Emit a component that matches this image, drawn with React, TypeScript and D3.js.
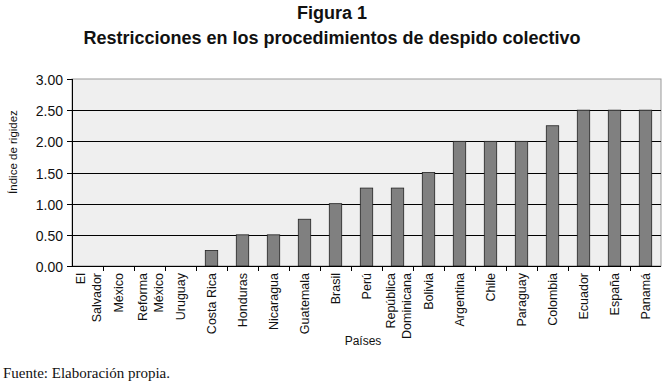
import { useEffect, useRef } from 'react';
import * as d3 from 'd3';

const countries = [
  "El Salvador", "México", "Reforma México", "Uruguay", "Costa Rica", "Honduras",
  "Nicaragua", "Guatemala", "Brasil", "Perú", "República Dominicana", "Bolivia",
  "Argentina", "Chile", "Paraguay", "Colombia", "Ecuador", "España", "Panamá"
];
const labelLines = [
  ["El", "Salvador"], ["México"], ["Reforma", "México"], ["Uruguay"], ["Costa Rica"],
  ["Honduras"], ["Nicaragua"], ["Guatemala"], ["Brasil"], ["Perú"],
  ["República", "Dominicana"], ["Bolivia"], ["Argentina"], ["Chile"], ["Paraguay"],
  ["Colombia"], ["Ecuador"], ["España"], ["Panamá"]
];
const rigidez = [0, 0, 0, 0, 0.25, 0.5, 0.5, 0.75, 1, 1.25, 1.25, 1.5, 2, 2, 2, 2.25, 2.5, 2.5, 2.5];
const yTicks = [0, 0.5, 1, 1.5, 2, 2.5, 3];

export default function App() {
  const svgRef = useRef<SVGSVGElement>(null);

  useEffect(() => {
    if (!svgRef.current) return;
    const svg = d3.select(svgRef.current);
    svg.selectAll("*").remove();

    const width = 663, height = 387;
    const left = 72, right = 661, top = 79, bottom = 266;
    const font = "Arial, 'Liberation Sans', sans-serif";

    const x = d3.scaleBand<string>().domain(countries).range([left, right]).paddingInner(0.6).paddingOuter(0.3);
    const xb = d3.scaleBand<string>().domain(countries).range([left, right]);
    const y = d3.scaleLinear().domain([0, 3]).range([bottom, top]);

    svg.attr("width", width).attr("height", height);

    // titles
    svg.append("text").attr("x", 332).attr("y", 19).attr("text-anchor", "middle")
      .attr("font-family", font).attr("font-weight", "bold").attr("font-size", 18)
      .attr("fill", "#111").text("Figura 1");
    svg.append("text").attr("x", 332).attr("y", 44).attr("text-anchor", "middle")
      .attr("font-family", font).attr("font-weight", "bold").attr("font-size", 18)
      .attr("fill", "#111").text("Restricciones en los procedimientos de despido colectivo");

    // plot background
    svg.append("rect").attr("x", left).attr("y", top).attr("width", right - left).attr("height", bottom - top)
      .attr("fill", "#efefef").attr("stroke", "#999");

    // gridlines
    svg.append("g").selectAll("line").data(yTicks.filter(t => t > 0 && t < 3)).join("line")
      .attr("x1", left).attr("x2", right)
      .attr("y1", d => Math.round(y(d)) + 0.5).attr("y2", d => Math.round(y(d)) + 0.5)
      .attr("stroke", "#000");

    // bars
    svg.append("g").selectAll("rect").data(countries).join("rect")
      .attr("x", (d) => x(d)!)
      .attr("y", (d, i) => y(rigidez[i]))
      .attr("width", x.bandwidth())
      .attr("height", (d, i) => bottom - y(rigidez[i]))
      .attr("fill", "#808080").attr("stroke", "#222").attr("stroke-width", 0.8);

    // y axis
    const ya = svg.append("g");
    ya.append("line").attr("x1", left + 0.5).attr("x2", left + 0.5).attr("y1", top).attr("y2", bottom)
      .attr("stroke", "#000");
    yTicks.forEach(t => {
      const yy = Math.round(y(t)) + 0.5;
      ya.append("line").attr("x1", left - 5).attr("x2", left).attr("y1", yy).attr("y2", yy).attr("stroke", "#000");
      ya.append("text").attr("x", left - 9).attr("y", yy + 5).attr("text-anchor", "end")
        .attr("font-family", font).attr("font-size", 14).attr("fill", "#111").text(t.toFixed(2));
    });

    // x axis
    const xa = svg.append("g");
    xa.append("line").attr("x1", left).attr("x2", right).attr("y1", bottom + 0.5).attr("y2", bottom + 0.5)
      .attr("stroke", "#000");
    countries.forEach((c, i) => {
      const bx = Math.round(xb(c)! + xb.bandwidth()) + 0.5;
      if (i < countries.length - 1)
        xa.append("line").attr("x1", bx).attr("x2", bx).attr("y1", bottom).attr("y2", bottom + 5).attr("stroke", "#000");
      const cx = xb(c)! + xb.bandwidth() / 2;
      const lines = labelLines[i];
      const t = xa.append("text")
        .attr("transform", `translate(${cx},273) rotate(-90)`)
        .attr("text-anchor", "end")
        .attr("font-family", font).attr("font-size", 12.5).attr("fill", "#111");
      lines.forEach((ln, j) => {
        const off = lines.length === 1 ? 4.5 : (j === 0 ? -2.5 : 13);
        t.append("tspan").attr("x", 0).attr("y", off).text(ln);
      });
    });

    // axis titles
    svg.append("text").attr("transform", "translate(17,152) rotate(-90)").attr("text-anchor", "middle")
      .attr("font-family", font).attr("font-size", 11.5).attr("fill", "#111").text("Índice de rigidez");
    svg.append("text").attr("x", 363).attr("y", 345).attr("text-anchor", "middle")
      .attr("font-family", font).attr("font-size", 12).attr("fill", "#111").text("Países");

    // source
    svg.append("text").attr("x", 3).attr("y", 378)
      .attr("font-family", "'Liberation Serif', 'Times New Roman', serif").attr("font-size", 15)
      .attr("fill", "#111").text("Fuente: Elaboración propia.");
  }, []);

  return (
    <div style={{ position: "absolute", left: 0, top: 0 }}>
      <svg ref={svgRef} style={{ display: "block", background: "#fff" }} />
    </div>
  );
}
